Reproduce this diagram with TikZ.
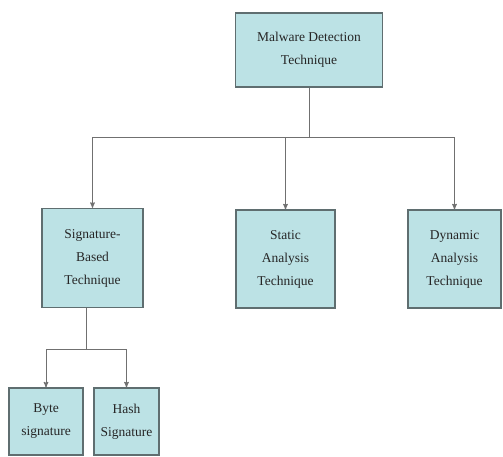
\documentclass[tikz,border=0pt]{standalone}
\usepackage{fontspec}
\setmainfont{Liberation Serif}
\usetikzlibrary{arrows}

\definecolor{boxfill}{RGB}{188,226,229}
\definecolor{boxline}{RGB}{95,110,112}
\definecolor{linkgray}{RGB}{112,112,112}

\begin{document}
\begin{tikzpicture}[x=1pt,y=-1pt,->,>=stealth',line width=1pt,draw=linkgray]
  \tikzstyle{box}=[rectangle,draw=boxline,fill=boxfill,line width=1.3pt,
    align=center,text=black!85,font=\fontsize{13.5}{23}\selectfont]

  \useasboundingbox (0,0) rectangle (503,456);

  \node[box,minimum width=147pt,minimum height=74pt] (mdt)    at (309,50)    {Malware Detection\\Technique};
  \node[box,minimum width=101pt,minimum height=99pt] (sig)    at (92.5,258)  {Signature-\\Based\\Technique};
  \node[box,minimum width=99pt,minimum height=98pt]  (static) at (285.5,259) {Static\\Analysis\\Technique};
  \node[box,minimum width=93pt,minimum height=98pt]  (dyn)    at (454.5,259) {Dynamic\\Analysis\\Technique};
  \node[box,minimum width=74pt,minimum height=67pt]  (byte)   at (46,421.5)  {Byte\\signature};
  \node[box,minimum width=65pt,minimum height=67pt]  (hash)   at (126.5,421.5) {Hash\\Signature};

  \coordinate (split)    at (309,137);
  \coordinate (sigsplit) at (86,349);

  \draw[-] (mdt) -- (split);
  \draw (split) -| (sig);
  \draw (split -| static) -- (static);
  \draw (split) -| (dyn);

  \draw[-] (sig.south -| sigsplit) -- (sigsplit);
  \draw (sigsplit) -| (byte);
  \draw (sigsplit) -| (hash);
\end{tikzpicture}
\end{document}
